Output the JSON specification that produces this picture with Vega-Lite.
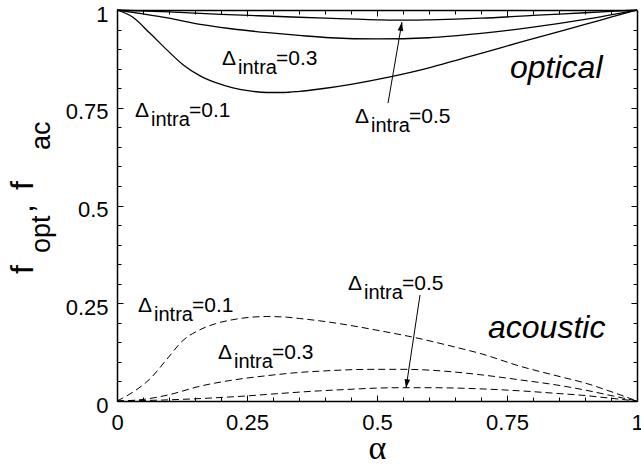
{
  "$schema": "https://vega.github.io/schema/vega-lite/v6.json",
  "width": 520,
  "height": 391,
  "autosize": {"type": "none"},
  "padding": {"left": 117, "top": 10, "right": 4, "bottom": 65},
  "background": "white",
  "config": {
    "view": {"stroke": null},
    "axis": {
      "domainColor": "black", "domainWidth": 1.5, "tickColor": "black", "tickWidth": 1,
      "labelColor": "black", "labelFont": "Liberation Sans", "labelFontSize": 22,
      "grid": false, "titleColor": "black"
    },
    "text": {"font": "Liberation Sans", "color": "black"}
  },
  "datasets": {
    "curves": [
      {"m":"opt","d":0.1,"a":0,"v":1},{"m":"opt","d":0.1,"a":0.03,"v":0.982},{"m":"opt","d":0.1,"a":0.063,"v":0.941},{"m":"opt","d":0.1,"a":0.096,"v":0.898},{"m":"opt","d":0.1,"a":0.127,"v":0.86},{"m":"opt","d":0.1,"a":0.159,"v":0.832},{"m":"opt","d":0.1,"a":0.19,"v":0.814},{"m":"opt","d":0.1,"a":0.223,"v":0.801},{"m":"opt","d":0.1,"a":0.255,"v":0.793},{"m":"opt","d":0.1,"a":0.288,"v":0.789},{"m":"opt","d":0.1,"a":0.32,"v":0.789},{"m":"opt","d":0.1,"a":0.351,"v":0.792},{"m":"opt","d":0.1,"a":0.39,"v":0.798},{"m":"opt","d":0.1,"a":0.45,"v":0.81},{"m":"opt","d":0.1,"a":0.525,"v":0.829},{"m":"opt","d":0.1,"a":0.6,"v":0.852},{"m":"opt","d":0.1,"a":0.654,"v":0.872},{"m":"opt","d":0.1,"a":0.7,"v":0.889},{"m":"opt","d":0.1,"a":0.774,"v":0.917},{"m":"opt","d":0.1,"a":0.85,"v":0.945},{"m":"opt","d":0.1,"a":0.9,"v":0.963},{"m":"opt","d":0.1,"a":0.95,"v":0.982},{"m":"opt","d":0.1,"a":1,"v":1},
      {"m":"opt","d":0.3,"a":0,"v":1},{"m":"opt","d":0.3,"a":0.05,"v":0.99},{"m":"opt","d":0.3,"a":0.1,"v":0.979},{"m":"opt","d":0.3,"a":0.16,"v":0.963},{"m":"opt","d":0.3,"a":0.22,"v":0.952},{"m":"opt","d":0.3,"a":0.29,"v":0.942},{"m":"opt","d":0.3,"a":0.35,"v":0.935},{"m":"opt","d":0.3,"a":0.41,"v":0.929},{"m":"opt","d":0.3,"a":0.5,"v":0.926},{"m":"opt","d":0.3,"a":0.6,"v":0.929},{"m":"opt","d":0.3,"a":0.7,"v":0.94},{"m":"opt","d":0.3,"a":0.8,"v":0.956},{"m":"opt","d":0.3,"a":0.9,"v":0.976},{"m":"opt","d":0.3,"a":1,"v":1},
      {"m":"opt","d":0.5,"a":0,"v":1},{"m":"opt","d":0.5,"a":0.1,"v":0.995},{"m":"opt","d":0.5,"a":0.2,"v":0.989},{"m":"opt","d":0.5,"a":0.3,"v":0.984},{"m":"opt","d":0.5,"a":0.4,"v":0.979},{"m":"opt","d":0.5,"a":0.5,"v":0.975},{"m":"opt","d":0.5,"a":0.55,"v":0.974},{"m":"opt","d":0.5,"a":0.6,"v":0.975},{"m":"opt","d":0.5,"a":0.7,"v":0.979},{"m":"opt","d":0.5,"a":0.8,"v":0.986},{"m":"opt","d":0.5,"a":0.9,"v":0.993},{"m":"opt","d":0.5,"a":1,"v":1},
      {"m":"ac","d":0.1,"a":0,"v":0},{"m":"ac","d":0.1,"a":0.031,"v":0.023},{"m":"ac","d":0.1,"a":0.063,"v":0.056},{"m":"ac","d":0.1,"a":0.096,"v":0.107},{"m":"ac","d":0.1,"a":0.127,"v":0.155},{"m":"ac","d":0.1,"a":0.159,"v":0.182},{"m":"ac","d":0.1,"a":0.19,"v":0.198},{"m":"ac","d":0.1,"a":0.223,"v":0.208},{"m":"ac","d":0.1,"a":0.255,"v":0.214},{"m":"ac","d":0.1,"a":0.288,"v":0.216},{"m":"ac","d":0.1,"a":0.32,"v":0.215},{"m":"ac","d":0.1,"a":0.351,"v":0.211},{"m":"ac","d":0.1,"a":0.39,"v":0.205},{"m":"ac","d":0.1,"a":0.45,"v":0.193},{"m":"ac","d":0.1,"a":0.5,"v":0.181},{"m":"ac","d":0.1,"a":0.57,"v":0.163},{"m":"ac","d":0.1,"a":0.65,"v":0.138},{"m":"ac","d":0.1,"a":0.7,"v":0.121},{"m":"ac","d":0.1,"a":0.775,"v":0.089},{"m":"ac","d":0.1,"a":0.85,"v":0.063},{"m":"ac","d":0.1,"a":0.9,"v":0.046},{"m":"ac","d":0.1,"a":0.95,"v":0.024},{"m":"ac","d":0.1,"a":1,"v":0},
      {"m":"ac","d":0.3,"a":0,"v":0},{"m":"ac","d":0.3,"a":0.05,"v":0.004},{"m":"ac","d":0.3,"a":0.1,"v":0.016},{"m":"ac","d":0.3,"a":0.16,"v":0.038},{"m":"ac","d":0.3,"a":0.22,"v":0.053},{"m":"ac","d":0.3,"a":0.29,"v":0.065},{"m":"ac","d":0.3,"a":0.35,"v":0.073},{"m":"ac","d":0.3,"a":0.4,"v":0.077},{"m":"ac","d":0.3,"a":0.45,"v":0.08},{"m":"ac","d":0.3,"a":0.5,"v":0.081},{"m":"ac","d":0.3,"a":0.55,"v":0.081},{"m":"ac","d":0.3,"a":0.6,"v":0.079},{"m":"ac","d":0.3,"a":0.65,"v":0.074},{"m":"ac","d":0.3,"a":0.7,"v":0.067},{"m":"ac","d":0.3,"a":0.775,"v":0.054},{"m":"ac","d":0.3,"a":0.85,"v":0.04},{"m":"ac","d":0.3,"a":0.9,"v":0.028},{"m":"ac","d":0.3,"a":0.95,"v":0.014},{"m":"ac","d":0.3,"a":1,"v":0},
      {"m":"ac","d":0.5,"a":0,"v":0},{"m":"ac","d":0.5,"a":0.1,"v":0.003},{"m":"ac","d":0.5,"a":0.2,"v":0.009},{"m":"ac","d":0.5,"a":0.25,"v":0.013},{"m":"ac","d":0.5,"a":0.3,"v":0.018},{"m":"ac","d":0.5,"a":0.39,"v":0.026},{"m":"ac","d":0.5,"a":0.45,"v":0.03},{"m":"ac","d":0.5,"a":0.5,"v":0.033},{"m":"ac","d":0.5,"a":0.55,"v":0.034},{"m":"ac","d":0.5,"a":0.6,"v":0.034},{"m":"ac","d":0.5,"a":0.7,"v":0.031},{"m":"ac","d":0.5,"a":0.775,"v":0.026},{"m":"ac","d":0.5,"a":0.85,"v":0.019},{"m":"ac","d":0.5,"a":0.9,"v":0.014},{"m":"ac","d":0.5,"a":0.95,"v":0.007},{"m":"ac","d":0.5,"a":1,"v":0}
    ],
    "ann": [
      {"a":0.202,"v":0.859,"lab":"=0.3"},
      {"a":0.0346,"v":0.726,"lab":"=0.1"},
      {"a":0.4577,"v":0.711,"lab":"=0.5"},
      {"a":0.0404,"v":0.2276,"lab":"=0.1"},
      {"a":0.1942,"v":0.1074,"lab":"=0.3"},
      {"a":0.4442,"v":0.2839,"lab":"=0.5"}
    ],
    "modes": [
      {"a":0.7558,"v":0.826,"name":"optical"},
      {"a":0.7135,"v":0.161,"name":"acoustic"}
    ],
    "arrows": [
      {"a":0.5212,"v":0.762,"a2":0.548,"v2":0.969,"ang":9.8},
      {"a":0.5827,"v":0.2711,"a2":0.5558,"v2":0.0332,"ang":188.6}
    ],
    "ytitle": [
      {"a":-0.1615,"v":0.3248,"t":"f","k":"main"},
      {"a":-0.1288,"v":0.3785,"t":"opt","k":"sub"},
      {"a":-0.1615,"v":0.4808,"t":",","k":"main"},
      {"a":-0.1615,"v":0.5396,"t":"f","k":"main"},
      {"a":-0.1288,"v":0.6419,"t":"ac","k":"sub"}
    ]
  },
  "layer": [
    {
      "data": {"name": "curves"},
      "transform": [{"filter": "datum.m === 'opt'"}],
      "mark": {"type": "line", "color": "black", "strokeWidth": 1.3, "interpolate": "monotone"},
      "encoding": {
        "x": {"field": "a", "type": "quantitative", "scale": {"domain": [0, 1], "nice": false, "zero": false},
          "axis": {"orient": "bottom", "values": [0, 0.25, 0.5, 0.75, 1], "format": ".2~f", "tickSize": -6, "labelPadding": 17, "labelFlush": false,
            "title": "α", "titleFont": "Liberation Serif", "titleFontSize": 34, "titleFontWeight": "normal", "titlePadding": -2}},
        "y": {"field": "v", "type": "quantitative", "scale": {"domain": [0, 1], "nice": false, "zero": false},
          "axis": {"orient": "left", "values": [0, 0.25, 0.5, 0.75, 1], "format": ".2~f", "tickSize": -6, "labelPadding": 15, "labelOffset": 4, "title": null}},
        "detail": {"field": "d"}
      }
    },
    {
      "data": {"name": "curves"},
      "transform": [{"filter": "datum.m === 'ac'"}],
      "mark": {"type": "line", "color": "black", "strokeWidth": 1, "strokeDash": [7, 4], "interpolate": "monotone"},
      "encoding": {
        "x": {"field": "a", "type": "quantitative", "scale": {"domain": [0, 1], "nice": false, "zero": false},
          "axis": {"orient": "top", "values": [0, 0.25, 0.5, 0.75, 1], "labels": false, "tickSize": -6, "title": null}},
        "y": {"field": "v", "type": "quantitative", "scale": {"domain": [0, 1], "nice": false, "zero": false},
          "axis": {"orient": "right", "values": [0, 0.25, 0.5, 0.75, 1], "labels": false, "tickSize": -6, "title": null}},
        "detail": {"field": "d"}
      }
    },
    {
      "data": {"name": "ann"},
      "mark": {"type": "text", "align": "left", "baseline": "alphabetic", "fontSize": 21},
      "encoding": {
        "x": {"field": "a", "type": "quantitative", "scale": {"domain": [0, 1], "nice": false, "zero": false},
          "axis": {"orient": "bottom", "values": [0.05,0.1,0.15,0.2,0.3,0.35,0.4,0.45,0.55,0.6,0.65,0.7,0.8,0.85,0.9,0.95], "labels": false, "domain": false, "tickSize": -4, "title": null}},
        "y": {"field": "v", "type": "quantitative", "scale": {"domain": [0, 1], "nice": false, "zero": false},
          "axis": {"orient": "left", "values": [0.05,0.1,0.15,0.2,0.3,0.35,0.4,0.45,0.55,0.6,0.65,0.7,0.8,0.85,0.9,0.95], "labels": false, "domain": false, "tickSize": -4, "title": null}},
        "text": {"value": "Δ"}
      }
    },
    {
      "data": {"name": "ann"},
      "mark": {"type": "text", "align": "left", "baseline": "alphabetic", "fontSize": 20, "dx": 16, "dy": 9},
      "encoding": {
        "x": {"field": "a", "type": "quantitative", "scale": {"domain": [0, 1], "nice": false, "zero": false},
          "axis": {"orient": "top", "values": [0.05,0.1,0.15,0.2,0.3,0.35,0.4,0.45,0.55,0.6,0.65,0.7,0.8,0.85,0.9,0.95], "labels": false, "domain": false, "tickSize": -4, "title": null}},
        "y": {"field": "v", "type": "quantitative", "scale": {"domain": [0, 1], "nice": false, "zero": false},
          "axis": {"orient": "right", "values": [0.05,0.1,0.15,0.2,0.3,0.35,0.4,0.45,0.55,0.6,0.65,0.7,0.8,0.85,0.9,0.95], "labels": false, "domain": false, "tickSize": -4, "title": null}},
        "text": {"value": "intra"}
      }
    },
    {
      "data": {"name": "ann"},
      "mark": {"type": "text", "align": "left", "baseline": "alphabetic", "fontSize": 21, "dx": 54},
      "encoding": {
        "x": {"field": "a", "type": "quantitative", "scale": {"domain": [0, 1], "nice": false, "zero": false}, "axis": null},
        "y": {"field": "v", "type": "quantitative", "scale": {"domain": [0, 1], "nice": false, "zero": false}, "axis": null},
        "text": {"field": "lab"}
      }
    },
    {
      "data": {"name": "modes"},
      "mark": {"type": "text", "align": "left", "baseline": "alphabetic", "fontSize": 32, "fontStyle": "italic"},
      "encoding": {
        "x": {"field": "a", "type": "quantitative", "scale": {"domain": [0, 1], "nice": false, "zero": false}, "axis": null},
        "y": {"field": "v", "type": "quantitative", "scale": {"domain": [0, 1], "nice": false, "zero": false}, "axis": null},
        "text": {"field": "name"}
      }
    },
    {
      "data": {"name": "arrows"},
      "mark": {"type": "rule", "color": "black", "strokeWidth": 1},
      "encoding": {
        "x": {"field": "a", "type": "quantitative", "scale": {"domain": [0, 1], "nice": false, "zero": false}, "axis": null},
        "y": {"field": "v", "type": "quantitative", "scale": {"domain": [0, 1], "nice": false, "zero": false}, "axis": null},
        "x2": {"field": "a2"},
        "y2": {"field": "v2"}
      }
    },
    {
      "data": {"name": "arrows"},
      "mark": {"type": "point", "shape": "M0,0L-0.35,1.1L0.35,1.1Z", "filled": true, "color": "black", "opacity": 1, "size": 256, "strokeWidth": 0},
      "encoding": {
        "x": {"field": "a2", "type": "quantitative", "scale": {"domain": [0, 1], "nice": false, "zero": false}, "axis": null},
        "y": {"field": "v2", "type": "quantitative", "scale": {"domain": [0, 1], "nice": false, "zero": false}, "axis": null},
        "angle": {"field": "ang", "type": "quantitative", "scale": null}
      }
    },
    {
      "data": {"name": "ytitle"},
      "transform": [{"filter": "datum.k === 'main'"}],
      "mark": {"type": "text", "align": "left", "baseline": "alphabetic", "fontSize": 32, "angle": 270},
      "encoding": {
        "x": {"field": "a", "type": "quantitative", "scale": {"domain": [0, 1], "nice": false, "zero": false}, "axis": null},
        "y": {"field": "v", "type": "quantitative", "scale": {"domain": [0, 1], "nice": false, "zero": false}, "axis": null},
        "text": {"field": "t"}
      }
    },
    {
      "data": {"name": "ytitle"},
      "transform": [{"filter": "datum.k === 'sub'"}],
      "mark": {"type": "text", "align": "left", "baseline": "alphabetic", "fontSize": 27, "angle": 270},
      "encoding": {
        "x": {"field": "a", "type": "quantitative", "scale": {"domain": [0, 1], "nice": false, "zero": false}, "axis": null},
        "y": {"field": "v", "type": "quantitative", "scale": {"domain": [0, 1], "nice": false, "zero": false}, "axis": null},
        "text": {"field": "t"}
      }
    }
  ],
  "resolve": {"axis": {"x": "independent", "y": "independent"}}
}
